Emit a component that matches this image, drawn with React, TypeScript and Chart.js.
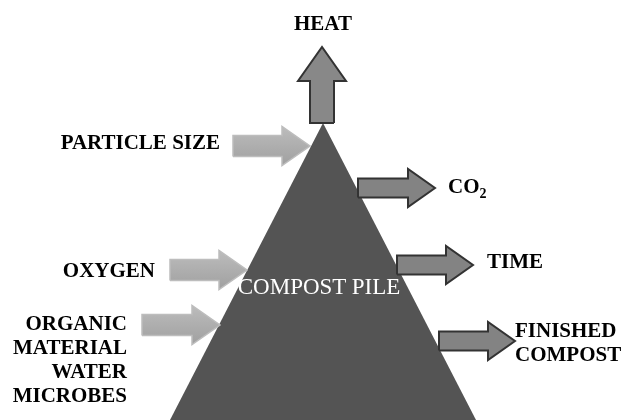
import { useEffect, useRef, useState } from "react";
import { Chart, registerables } from "chart.js";

Chart.register(...registerables);

// Diagram space: x 0..622, y 0..420 (y grows downward)
const pileVertices = [
  { x: 323, y: 123 },
  { x: 476, y: 420 },
  { x: 170, y: 420 },
];

const inputTails = [
  [233, 146],
  [170, 270],
  [142, 325],
];
const inputTips = [
  [310, 146],
  [247, 270],
  [220, 325],
];

const outputTails = [
  [358, 188],
  [397, 265],
  [439, 341],
];
const outputTips = [
  [435, 188],
  [473, 265],
  [515, 341],
];

const heatTail = [322, 123];
const heatTip = [322, 47];

// text labels: lines, anchor x, centre y of first line, alignment
const labels = [
  { lines: ["HEAT"], x: 323, y: 23, align: "center" },
  { lines: ["PARTICLE SIZE"], x: 220, y: 142, align: "right" },
  { lines: ["OXYGEN"], x: 155, y: 270, align: "right" },
  { lines: ["ORGANIC", "MATERIAL", "WATER", "MICROBES"], x: 127, y: 323, align: "right" },
  { lines: ["CO|2"], x: 448, y: 186, align: "left" },
  { lines: ["TIME"], x: 487, y: 261, align: "left" },
  { lines: ["FINISHED", "COMPOST"], x: 515, y: 330, align: "left" },
];
const pileLabel = { text: "COMPOST PILE", x: 319, y: 287 };

function arrowPolygon(tail: number[], tip: number[], bodyHalf: number, headHalf: number, headLen: number) {
  const dx = tip[0] - tail[0];
  const dy = tip[1] - tail[1];
  const len = Math.hypot(dx, dy);
  const ux = dx / len, uy = dy / len;
  const nx = -uy, ny = ux;
  const bx = tip[0] - ux * headLen, by = tip[1] - uy * headLen;
  const pts = [
    [tail[0] + nx * bodyHalf, tail[1] + ny * bodyHalf],
    [bx + nx * bodyHalf, by + ny * bodyHalf],
    [bx + nx * headHalf, by + ny * headHalf],
    [tip[0], tip[1]],
    [bx - nx * headHalf, by - ny * headHalf],
    [bx - nx * bodyHalf, by - ny * bodyHalf],
    [tail[0] - nx * bodyHalf, tail[1] - ny * bodyHalf],
  ];
  pts.push(pts[0]);
  return pts.map((p) => ({ x: p[0], y: p[1] }));
}

function shape(data: any[], fill: any, stroke: string, width: number, order: number) {
  return {
    data,
    showLine: true,
    fill: "shape",
    backgroundColor: fill,
    borderColor: stroke,
    borderWidth: width,
    borderJoinStyle: "miter",
    pointRadius: 0,
    pointHoverRadius: 0,
    tension: 0,
    order,
  };
}

function lightGradient(context: any) {
  const chart = context.chart;
  const ds = context.dataset;
  if (!chart.chartArea || !ds) return "#ababab";
  const ys = ds.data.map((p: any) => chart.scales.y.getPixelForValue(p.y));
  const top = Math.min(...ys), bottom = Math.max(...ys);
  const g = chart.ctx.createLinearGradient(0, top, 0, bottom);
  g.addColorStop(0, "#bcbcbc");
  g.addColorStop(1, "#a0a0a0");
  return g;
}

const FONT_FAMILY = '"Liberation Serif", "Times New Roman", serif';

type Pos = { left: number; top: number };

export default function App() {
  const ref = useRef<HTMLCanvasElement | null>(null);
  const [pos, setPos] = useState<{ labels: Pos[]; pile: Pos } | null>(null);

  useEffect(() => {
    document.body.style.margin = "0";
    const canvas = ref.current!;
    const datasets: any[] = [];
    datasets.push(shape([...pileVertices, pileVertices[0]], "#545454", "#545454", 0, 5));
    datasets.push(shape(arrowPolygon(heatTail, heatTip, 12, 24, 34), "#888888", "#333333", 2, 1));
    inputTails.forEach((t, i) =>
      datasets.push(shape(arrowPolygon(t, inputTips[i], 10.5, 19.5, 28), lightGradient, "#bdbdbd", 1.5, 1))
    );
    outputTails.forEach((t, i) =>
      datasets.push(shape(arrowPolygon(t, outputTips[i], 9.5, 19, 27), "#838383", "#333333", 2, 1))
    );
    const chart = new Chart(canvas, {
      type: "scatter",
      data: { datasets },
      options: {
        animation: false,
        responsive: false,
        devicePixelRatio: 1,
        layout: { padding: 0 },
        events: [],
        scales: {
          x: { type: "linear", min: 0, max: 622, display: false },
          y: { type: "linear", min: 0, max: 420, reverse: true, display: false },
        },
        plugins: { legend: { display: false }, tooltip: { enabled: false } },
      } as any,
    });
    const X = (v: number) => chart.scales.x.getPixelForValue(v);
    const Y = (v: number) => chart.scales.y.getPixelForValue(v);
    setPos({
      labels: labels.map((l) => ({ left: X(l.x), top: Y(l.y) })),
      pile: { left: X(pileLabel.x), top: Y(pileLabel.y) },
    });
    return () => chart.destroy();
  }, []);

  const renderLine = (t: string, i: number) => {
    if (t.includes("|")) {
      const [main, sub] = t.split("|");
      return (
        <div key={i}>
          {main}
          <span style={{ fontSize: 14, position: "relative", top: 5 }}>{sub}</span>
        </div>
      );
    }
    return <div key={i}>{t}</div>;
  };

  return (
    <div style={{ width: 622, height: 420, position: "relative", background: "#fff", overflow: "hidden" }}>
      <canvas ref={ref} width={622} height={420} style={{ display: "block" }} />
      {pos &&
        labels.map((l, i) => {
          const p = pos.labels[i];
          const style: any = {
            position: "absolute",
            top: p.top - 12,
            fontFamily: FONT_FAMILY,
            fontWeight: "bold",
            fontSize: 21,
            lineHeight: "24px",
            color: "#000",
            whiteSpace: "nowrap",
            textAlign: l.align,
          };
          if (l.align === "right") style.right = 622 - p.left;
          else if (l.align === "left") style.left = p.left;
          else {
            style.left = p.left;
            style.transform = "translateX(-50%)";
          }
          return (
            <div key={i} style={style}>
              {l.lines.map(renderLine)}
            </div>
          );
        })}
      {pos && (
        <div
          style={{
            position: "absolute",
            left: pos.pile.left,
            top: pos.pile.top - 12,
            transform: "translateX(-50%)",
            fontFamily: FONT_FAMILY,
            fontSize: 23,
            lineHeight: "24px",
            color: "#fff",
            whiteSpace: "nowrap",
          }}
        >
          {pileLabel.text}
        </div>
      )}
    </div>
  );
}
